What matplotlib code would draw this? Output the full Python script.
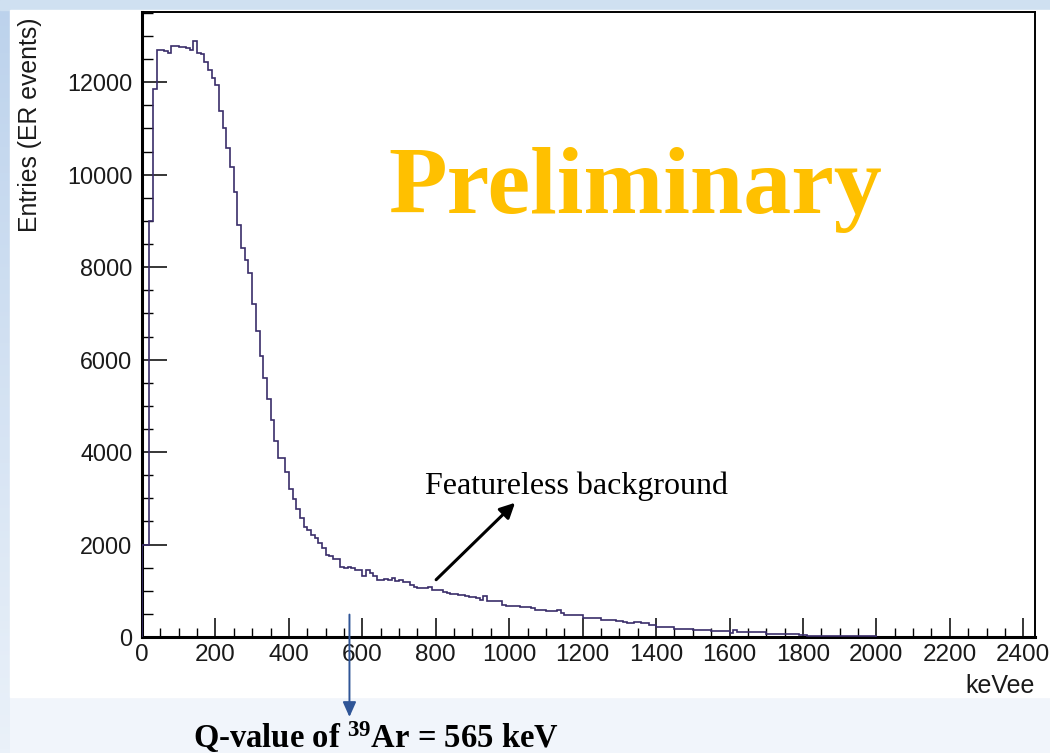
import numpy as np
import matplotlib
matplotlib.use("Agg")
import matplotlib.pyplot as plt
from matplotlib.patches import Rectangle

# Energy spectrum of ER events, 10 keVee bins from 0 to 2000 keVee
bin_edges = np.arange(0, 2001, 10)
entries = [
    2000, 2000, 9000, 11850, 12690, 12690, 12680, 12630, 12790, 12790,
    12770, 12760, 12735, 12700, 12900, 12640, 12610, 12440, 12265, 12085,
    11950, 11380, 11000, 10570, 10175, 9620, 8915, 8410, 8150, 7870,
    7200, 6620, 6070, 5600, 5150, 4700, 4250, 3870, 3870, 3560,
    3200, 2985, 2770, 2575, 2380, 2320, 2200, 2140, 2030, 1925,
    1780, 1745, 1690, 1685, 1505, 1500, 1510, 1500, 1455, 1455,
    1310, 1455, 1385, 1325, 1240, 1235, 1245, 1240, 1275, 1205,
    1240, 1180, 1180, 1130, 1080, 1060, 1065, 1055, 1090, 1020,
    1025, 1020, 965, 950, 930, 920, 915, 912, 880, 865,
    862, 850, 806, 878, 770, 772, 768, 770, 700, 677,
    680, 665, 662, 650, 640, 642, 620, 590, 592, 588,
    560, 554, 556, 575, 519, 482, 485, 480, 484, 482,
    411, 414, 409, 412, 410, 374, 376, 372, 360, 337,
    339, 335, 303, 305, 315, 317, 313, 300, 266, 268,
    216, 218, 214, 217, 215, 180, 182, 178, 181, 179,
    143, 145, 141, 144, 142, 121, 123, 119, 122, 120,
    95, 150, 112, 110, 114, 108, 111, 109, 112, 110,
    72, 70, 74, 68, 71, 73, 69, 70, 72, 45,
    34, 32, 30, 31, 29, 28, 30, 27, 26, 28,
    25, 24, 26, 23, 22, 24, 21, 20, 22, 19,
]

x_major_ticks = np.arange(0, 2401, 200)
x_minor_ticks = np.arange(0, 2431, 50)
y_major_ticks = np.arange(0, 12001, 2000)
y_minor_ticks = np.arange(0, 13501, 500)

q_value = 565  # keV, 39Ar beta endpoint

W, H = 1050, 753
fig = plt.figure(figsize=(W / 100, H / 100), dpi=100)
fig.patch.set_facecolor("#f1f5fb")

# slide background: blue border strips and white canvas
bg = fig.add_axes([0, 0, 1, 1], zorder=-10)
bg.set_axis_off()
bg.set_xlim(0, W)
bg.set_ylim(H, 0)
grad = np.linspace(0, 1, 200)[:, None]
bg.imshow(grad, extent=(0, 10, H, 0), aspect="auto",
          cmap=matplotlib.colors.LinearSegmentedColormap.from_list(
              "edge", ["#bcd2ec", "#eaf1f9"]), zorder=0)
bg.add_patch(Rectangle((0, 0), W, 10, color="#cfe0f1", zorder=1))
bg.add_patch(Rectangle((10, 10), W - 10, 687, color="white", zorder=2))

ax = fig.add_axes([142 / W, 1 - 637 / H, (1035 - 142) / W, (637 - 12) / H])
ax.set_facecolor("white")
ax.stairs(entries, bin_edges, baseline=0, fill=False,
          color="#3a2d6a", lw=1.2, zorder=3)

ax.set_xlim(0, 2432)
ax.set_ylim(0, 13520)
ax.set_xticks(x_major_ticks)
ax.set_xticks(x_minor_ticks, minor=True)
ax.set_yticks(y_major_ticks)
ax.set_yticks(y_minor_ticks, minor=True)

label_font = dict(family="Liberation Sans", color="#1a1a1a")
ax.set_xticklabels([str(v) for v in x_major_ticks], fontsize=17.5, **label_font)
ax.set_yticklabels([str(v) for v in y_major_ticks], fontsize=16.8, **label_font)
ax.tick_params(axis="x", which="major", direction="in", length=13.5, width=1.1,
               pad=5, top=False)
ax.tick_params(axis="x", which="minor", direction="in", length=6.5, width=1.0,
               top=False)
ax.tick_params(axis="y", which="major", direction="in", length=18, width=1.1,
               pad=7, right=False)
ax.tick_params(axis="y", which="minor", direction="in", length=8, width=1.0,
               right=False)

for side in ("left", "bottom"):
    ax.spines[side].set_linewidth(2.2)
for side in ("top", "right"):
    ax.spines[side].set_linewidth(1.4)

fig.text(1035 / W, 1 - 686 / H, "keVee", ha="right", va="center",
         fontsize=18, **label_font)
fig.text(30 / W, 1 - 18 / H, "Entries (ER events)", rotation=90,
         ha="center", va="top", fontsize=17.8, **label_font)

# annotations
ax.text(670, 9174, "Preliminary", family="Liberation Serif", weight="bold",
        fontsize=69, color="#ffc000", ha="left", va="baseline")
ax.text(1182, 3099, "Featureless background", family="Liberation Serif",
        fontsize=23, color="black", ha="center", va="baseline")
ax.annotate("", xy=(1016, 2904), xytext=(801, 1239),
            arrowprops=dict(arrowstyle="-|>,head_length=0.9,head_width=0.45",
                            color="black", lw=2.2, shrinkA=0, shrinkB=0))

ax.annotate("", xy=(q_value, 1 - 717 / H), xycoords=("data", "figure fraction"),
            xytext=(q_value, 485), textcoords="data",
            arrowprops=dict(arrowstyle="-|>,head_length=0.9,head_width=0.4",
                            color="#2f5597", lw=1.4, shrinkA=0, shrinkB=0),
            annotation_clip=False)

plt.rcParams["mathtext.fontset"] = "custom"
plt.rcParams["mathtext.rm"] = "Liberation Serif:bold"
plt.rcParams["mathtext.it"] = "Liberation Serif:bold"
plt.rcParams["mathtext.bf"] = "Liberation Serif:bold"
fig.text(193 / W, 1 - 748 / H, r"Q-value of $^{39}$Ar = 565 keV",
         family="Liberation Serif", weight="bold", fontsize=23.5,
         color="black", ha="left", va="baseline")

fig.savefig("out.png", dpi=100)
